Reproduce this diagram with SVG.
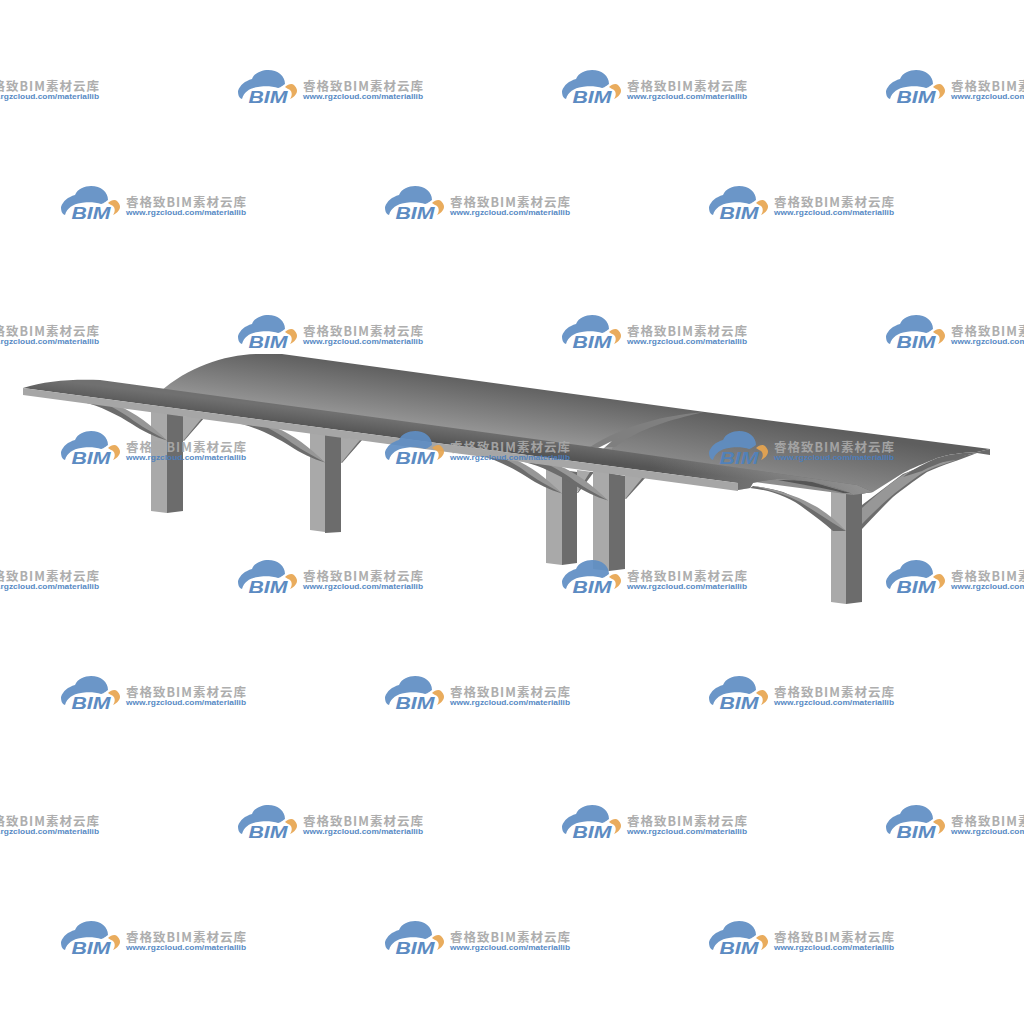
<svg xmlns="http://www.w3.org/2000/svg" xmlns:xlink="http://www.w3.org/1999/xlink" width="1024" height="1024" viewBox="0 0 1024 1024">
<style>
.lt{fill:#a9a9a9}.dk{fill:#6c6c6c}.md{fill:#979797}.dd{fill:#555}.band{fill:#a6a6a6}
.cn{font-family:"Noto Sans CJK SC","Liberation Sans",sans-serif;font-size:12.5px;font-weight:700;fill:#a8a8a8}
.en{font-family:"Liberation Sans",Arial,sans-serif;font-size:8px;font-weight:700;fill:#4a7fc0}
.bim{font-family:"Liberation Sans",Arial,sans-serif;font-size:17px;font-weight:700;font-style:italic;fill:#4f82bd}
</style>
<defs>
<linearGradient id="rb" gradientUnits="userSpaceOnUse" x1="427" y1="373" x2="420" y2="428"><stop offset="0" stop-color="#606060"/><stop offset="1" stop-color="#989898"/></linearGradient>
<linearGradient id="rr" gradientUnits="userSpaceOnUse" x1="815" y1="428" x2="805" y2="490"><stop offset="0" stop-color="#5e5e5e"/><stop offset="1" stop-color="#8f8f8f"/></linearGradient>
<linearGradient id="rf" gradientUnits="userSpaceOnUse" x1="400" y1="421" x2="398" y2="438"><stop offset="0" stop-color="#707070"/><stop offset="1" stop-color="#555"/></linearGradient>
<linearGradient id="rfo" gradientUnits="userSpaceOnUse" x1="650" y1="0" x2="860" y2="0"><stop offset="0" stop-color="#999" stop-opacity="0"/><stop offset="1" stop-color="#999" stop-opacity=".85"/></linearGradient>
<g id="brace">
<path class="dk" d="M83 402C100 406 118 415 132 424C142 431 155 437 167 440.500C152 428 134 414 112 405Z"/>
<path class="md" d="M118 406C135 412 152 426 167 440.500C154 433 140 426 130 418C123 413 116 409 108 405Z"/>
</g>
<g id="wm" opacity=".92">
<path d="M0 21C2 15 7 11 14 9C16 3 24 0 30 0C40 0 47 6 47 14C43 17 41 18 40 18C35 16 24 16 20 17C12 18 6 22 4 29C1 28 0 25 0 21Z" fill="#5f8ec4"/>
<path d="M47 17C50 14 54 13 56 15C59 18 60 21 58 24C56 27 54 28 52 29C55 25 54 20 50 19C49 18 48 18 47 17Z" fill="#e8a550"/>
<text x="10.500" y="33" class="bim" textLength="39" lengthAdjust="spacingAndGlyphs">BIM</text>
<text x="65" y="21" class="cn" textLength="120">睿格致BIM素材云库</text>
<text x="65" y="28.500" class="en" textLength="120" lengthAdjust="spacingAndGlyphs">www.rgzcloud.com/materiallib</text>
</g>
</defs>
<rect width="1024" height="1024" fill="#fff"/>
<g id="canopy-back">
<path d="M160 392C190 365 230 353 265 354L282 354L705 412L640 464L170 403Z" fill="url(#rb)"/>
</g>
<g id="column-1">
<path class="lt" d="M151 408H167V513L151 511Z"/><path class="dk" d="M167 413L183 416V511L167 513Z"/>
<path class="lt" d="M183 416L204 418L184 440H183Z"/><path class="dk" d="M202 418H204L184 441H183Z"/>
<use xlink:href="#brace" href="#brace"/>
</g>
<g id="column-2">
<path class="lt" d="M310 428H325V532L310 530Z"/><path class="dk" d="M325 434L341 437V532L325 533Z"/>
<path class="lt" d="M341 437L362 440L342 462H341Z"/><path class="dk" d="M360 440H362L342 463H341Z"/>
<use xlink:href="#brace" href="#brace" x="158" y="22"/>
</g>
<g id="column-3">
<path class="lt" d="M577 470L593 472L587 481L577 492Z"/><path class="dk" d="M590 472H594L578 493H577Z"/>
<path class="lt" d="M546 464H562V565L546 563Z"/><path class="dk" d="M562 470L577 472V563L562 565Z"/>
<use xlink:href="#brace" href="#brace" x="395" y="53"/>
</g>
<g id="column-4">
<path class="lt" d="M625 475L645 477L626 498H625Z"/><path class="dk" d="M643 477H646L626 499H625Z"/>
<path class="lt" d="M593 468H609V571L593 569Z"/><path class="dk" d="M609 473L625 476V569L609 571Z"/>
<use xlink:href="#brace" href="#brace" x="441" y="60"/>
</g>
<g id="column-5">
<path class="dk" d="M862 505L903 474L940 460L977 453C957 461 945 464 927 472C912 482 902 490 893 497C882 508 872 518 862 529Z"/>
<path class="md" d="M862 508C875 496 889 484 903 475C915 468 930 463 957 460C940 465 928 469 918 476C908 483 897 491 888 499C878 508 870 516 862 524Z"/>
<path class="lt" d="M831 488H846V604L831 602Z"/><path class="dk" d="M846 490L862 490V602L846 604Z"/>
<path class="dk" d="M750 488C770 490 790 497 805 509C815 516 825 524 833 531L846 531C830 519 808 503 783 492C772 489 762 487 753 486Z"/>
<path class="md" d="M753 486C775 488 800 497 817 507C828 514 838 522 846 531C832 523 815 511 800 502C785 494 770 490 753 486Z"/>
</g>
<g id="canopy-right">
<path d="M612 463V448C635 425 665 414 705 412L990 449L977 452C960 453 950 454 937 458C925 463 912 468 903 473L873 492L853 495L740 480Z" fill="url(#rr)"/>
<path d="M590 447C625 425 665 415 704 412C670 420 640 428 615 447Z" fill="#7f7f7f"/>
<path d="M598 448L620 437L612 441L603 449Z" fill="#fff"/>
<path d="M990 449V455L977 453C957 457 937 463 922 471L903 477C913 469 925 463 937 458C950 454 960 453 977 452Z" fill="#6a6a6a"/>
</g>
<g id="canopy-front">
<path id="front-surface" d="M23 388C45 381 70 379 100 380L380 418L600 448L857 485L873 492L853 495L850 493C835 487 815 482 807 482C795 479 785 479 777 479C768 480 760 481 753 483L750 488L738 490V483L23 388Z" fill="url(#rf)"/>
<path d="M650 455L857 485L873 492L853 495L850 493C835 487 815 482 807 482C795 479 785 479 777 479C768 480 760 481 753 483L750 488L738 490V483L650 471Z" fill="url(#rfo)"/>
<path d="M23 388L738 483V491L23 395Z" class="band"/>
<path class="dd" d="M778 480C795 480 805 481 812 482L850 493L843 493C830 489 810 486 800 484Z"/>
</g>
<g id="watermarks">
<use xlink:href="#wm" href="#wm" x="-86" y="70"/><use xlink:href="#wm" href="#wm" x="238" y="70"/><use xlink:href="#wm" href="#wm" x="562" y="70"/><use xlink:href="#wm" href="#wm" x="886" y="70"/>
<use xlink:href="#wm" href="#wm" x="61" y="186"/><use xlink:href="#wm" href="#wm" x="385" y="186"/><use xlink:href="#wm" href="#wm" x="709" y="186"/>
<use xlink:href="#wm" href="#wm" x="-86" y="315"/><use xlink:href="#wm" href="#wm" x="238" y="315"/><use xlink:href="#wm" href="#wm" x="562" y="315"/><use xlink:href="#wm" href="#wm" x="886" y="315"/>
<use xlink:href="#wm" href="#wm" x="61" y="431"/><use xlink:href="#wm" href="#wm" x="385" y="431"/><use xlink:href="#wm" href="#wm" x="709" y="431"/>
<use xlink:href="#wm" href="#wm" x="-86" y="560"/><use xlink:href="#wm" href="#wm" x="238" y="560"/><use xlink:href="#wm" href="#wm" x="562" y="560"/><use xlink:href="#wm" href="#wm" x="886" y="560"/>
<use xlink:href="#wm" href="#wm" x="61" y="676"/><use xlink:href="#wm" href="#wm" x="385" y="676"/><use xlink:href="#wm" href="#wm" x="709" y="676"/>
<use xlink:href="#wm" href="#wm" x="-86" y="805"/><use xlink:href="#wm" href="#wm" x="238" y="805"/><use xlink:href="#wm" href="#wm" x="562" y="805"/><use xlink:href="#wm" href="#wm" x="886" y="805"/>
<use xlink:href="#wm" href="#wm" x="61" y="921"/><use xlink:href="#wm" href="#wm" x="385" y="921"/><use xlink:href="#wm" href="#wm" x="709" y="921"/>
</g>
</svg>
